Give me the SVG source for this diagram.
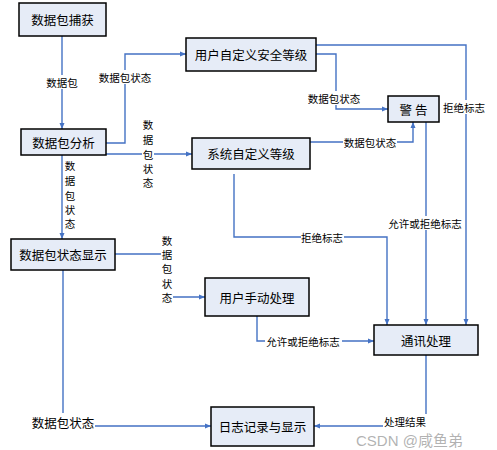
<svg xmlns="http://www.w3.org/2000/svg" width="497" height="450" viewBox="0 0 497 450">
<style>
.box{fill:#E6ECF7;stroke:#000;stroke-width:1.5}
.bt{font-family:"Noto Sans CJK SC","Liberation Sans",sans-serif;font-size:12.5px;fill:#000;text-anchor:middle;dominant-baseline:central}
.ln{fill:none;stroke:#4472C4;stroke-width:1.4}
.lb{font-family:"Noto Sans CJK SC","Liberation Sans",sans-serif;font-size:10.5px;fill:#000;text-anchor:middle;dominant-baseline:central}
.bg{fill:#fff}
</style>
<defs>
<marker id="ar" viewBox="0 0 6 6" refX="6" refY="3" markerWidth="6" markerHeight="6" orient="auto" markerUnits="userSpaceOnUse">
<path d="M0,0.5 L6,3 L0,5.5 z" fill="#4472C4"/>
</marker>
</defs>
<rect width="497" height="450" fill="#fff"/>
<g id="connectors">
<path class="ln" d="M62,36 V129" marker-end="url(#ar)"/>
<path class="ln" d="M106,143 H125 V54 H186" marker-end="url(#ar)"/>
<path class="ln" d="M106,154 H192" marker-end="url(#ar)"/>
<path class="ln" d="M62,155 V239" marker-end="url(#ar)"/>
<path class="ln" d="M316,54 H336 V109 H388" marker-end="url(#ar)"/>
<path class="ln" d="M316,45 H466 V325" marker-end="url(#ar)"/>
<path class="ln" d="M310,142 H413 V122" marker-end="url(#ar)"/>
<path class="ln" d="M426,122 V325" marker-end="url(#ar)"/>
<path class="ln" d="M234,174 V237 H387 V325" marker-end="url(#ar)"/>
<path class="ln" d="M115,254 H167 V297 H205" marker-end="url(#ar)"/>
<path class="ln" d="M63,270 V426 H211" marker-end="url(#ar)"/>
<path class="ln" d="M257,316 V341 H374" marker-end="url(#ar)"/>
<path class="ln" d="M426,355 V426 H314" marker-end="url(#ar)"/>
<rect class="bg" x="46" y="75" width="32" height="14"/>
<text class="lb" x="62" y="82">数据包</text>
<rect class="bg" x="98" y="70" width="54" height="14"/>
<text class="lb" x="125" y="77">数据包状态</text>
<rect class="bg" x="142" y="116" width="12" height="74"/>
<text class="lb"><tspan x="148" y="124">数</tspan><tspan x="148" y="139">据</tspan><tspan x="148" y="154">包</tspan><tspan x="148" y="168">状</tspan><tspan x="148" y="182">态</tspan></text>
<text class="lb"><tspan x="70" y="165">数</tspan><tspan x="70" y="180">据</tspan><tspan x="70" y="195">包</tspan><tspan x="70" y="209">状</tspan><tspan x="70" y="223">态</tspan></text>
<rect class="bg" x="307" y="91" width="54" height="14"/>
<text class="lb" x="334" y="98">数据包状态</text>
<rect class="bg" x="443" y="100" width="43" height="14"/>
<text class="lb" x="464" y="107">拒绝标志</text>
<rect class="bg" x="343" y="135" width="54" height="14"/>
<text class="lb" x="370" y="142">数据包状态</text>
<rect class="bg" x="387" y="216" width="76" height="14"/>
<text class="lb" x="425" y="223">允许或拒绝标志</text>
<rect class="bg" x="301" y="230" width="43" height="14"/>
<text class="lb" x="322" y="237">拒绝标志</text>
<rect class="bg" x="161" y="232" width="12" height="73"/>
<text class="lb"><tspan x="167" y="240">数</tspan><tspan x="167" y="254">据</tspan><tspan x="167" y="268">包</tspan><tspan x="167" y="283">状</tspan><tspan x="167" y="297">态</tspan></text>
<rect class="bg" x="30" y="413" width="65" height="18"/>
<text class="bt" x="63" y="422">数据包状态</text>
<rect class="bg" x="265" y="334" width="77" height="14"/>
<text class="lb" x="303" y="341">允许或拒绝标志</text>
<rect class="bg" x="383" y="414" width="44" height="14"/>
<text class="lb" x="405" y="421">处理结果</text>
</g>
<g id="n1"><rect class="box" x="19" y="3" width="87" height="33"/><text class="bt" x="62.5" y="19.5">数据包捕获</text></g>
<g id="n2"><rect class="box" x="21" y="129" width="85" height="26"/><text class="bt" x="63.5" y="142">数据包分析</text></g>
<g id="n3"><rect class="box" x="186" y="38" width="130" height="33"/><text class="bt" x="251" y="54.5">用户自定义安全等级</text></g>
<g id="n4"><rect class="box" x="388" y="96" width="51" height="26"/><text class="bt" x="413.5" y="109">警 告</text></g>
<g id="n5"><rect class="box" x="192" y="138" width="118" height="31"/><text class="bt" x="251" y="153.5">系统自定义等级</text></g>
<g id="n6"><rect class="box" x="11" y="239" width="104" height="31"/><text class="bt" x="63" y="254.5">数据包状态显示</text></g>
<g id="n7"><rect class="box" x="205" y="278" width="104" height="38"/><text class="bt" x="257" y="297">用户手动处理</text></g>
<g id="n8"><rect class="box" x="374" y="325" width="104" height="30"/><text class="bt" x="426" y="340">通讯处理</text></g>
<g id="n9"><rect class="box" x="211" y="407" width="103" height="39"/><text class="bt" x="262.5" y="426.5">日志记录与显示</text></g>
<text x="356" y="446" font-family="'Liberation Sans','Noto Sans CJK SC',sans-serif" font-size="15" fill="#999" fill-opacity="0.75">CSDN @咸鱼弟</text>
</svg>
